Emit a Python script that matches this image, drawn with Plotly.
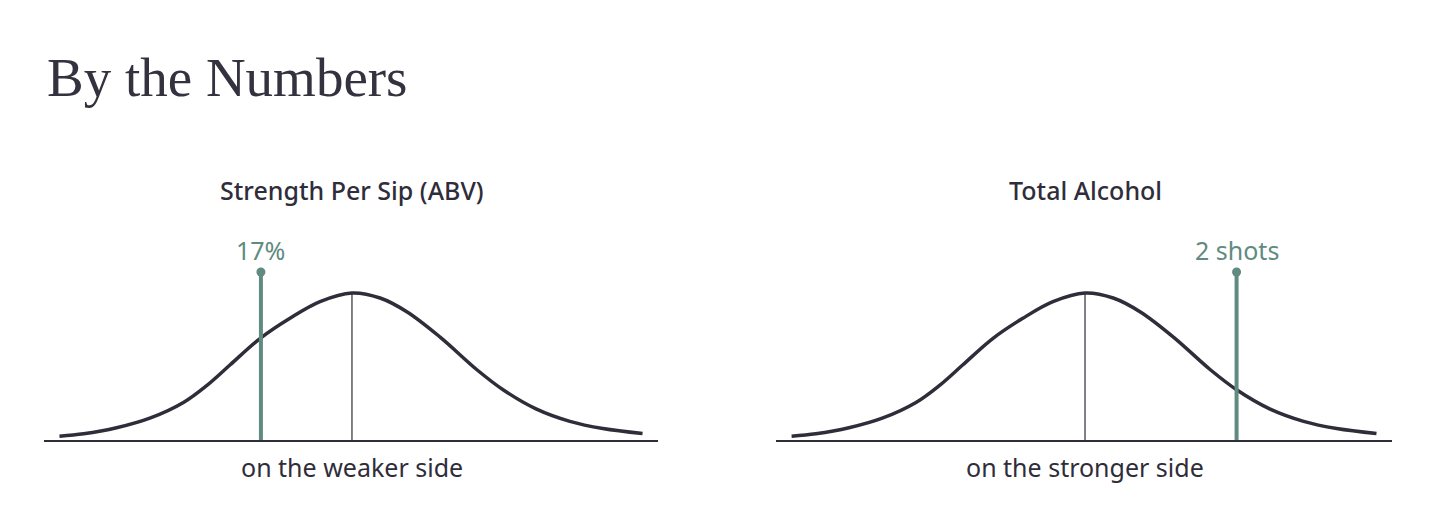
"""'By the Numbers' panel: two bell curves with a highlighted position marker."""

import plotly.graph_objects as go

# bell curve, shared by both panels (x in standard deviations, y relative height)
curve_z = [-3.02, -2.77, -2.43, -2.08, -1.74, -1.50, -1.26, -0.95, -0.64, -0.33, 0.0,
           0.29, 0.57, 0.91, 1.29, 1.56, 1.90, 2.25, 2.59, 3.0]
curve_height = [0.026, 0.042, 0.083, 0.15, 0.255, 0.37, 0.51, 0.69, 0.828, 0.941, 1.0,
                0.966, 0.871, 0.70, 0.478, 0.342, 0.212, 0.127, 0.078, 0.044]

panel_titles = ["Strength Per Sip (ABV)", "Total Alcohol"]
marker_z = [-0.94, 1.56]
marker_top = [1.143, 1.143]
marker_labels = ["17%", "2 shots"]
side_labels = ["on the weaker side", "on the stronger side"]

INK = "#2f2d3a"
TEAL = "#5f8b80"
SANS = "Noto Sans"

fig = go.Figure()
# the page body adds an 8px margin, so positions are shifted up/left by 8px
domains = [[0.0248, 0.4483], [0.5297, 0.9545]]

for i in range(2):
    xa = "x" if i == 0 else "x2"
    ya = "y" if i == 0 else "y2"
    # center (mean) line
    fig.add_trace(go.Scatter(x=[0, 0], y=[0, 1], mode="lines",
                             line=dict(color=INK, width=1.2), xaxis=xa, yaxis=ya,
                             hoverinfo="skip"))
    fig.add_trace(go.Scatter(x=curve_z, y=curve_height, mode="lines",
                             line=dict(color=INK, width=3.5, shape="spline", smoothing=1.0),
                             xaxis=xa, yaxis=ya, hoverinfo="skip"))
    # highlighted value
    fig.add_trace(go.Scatter(x=[marker_z[i], marker_z[i]], y=[0, marker_top[i]],
                             mode="lines", line=dict(color=TEAL, width=4),
                             xaxis=xa, yaxis=ya, hoverinfo="skip"))
    fig.add_trace(go.Scatter(x=[marker_z[i]], y=[marker_top[i]], mode="markers",
                             marker=dict(color=TEAL, size=9), xaxis=xa, yaxis=ya,
                             hoverinfo="skip"))
    fig.add_annotation(x=marker_z[i], y=1.29, xref=xa, yref=ya, text=marker_labels[i],
                       showarrow=False, yanchor="middle",
                       font=dict(family=SANS, size=25, color=TEAL))
    fig.add_annotation(x=0, y=0.65, xref=xa, yref="paper", text=panel_titles[i],
                       showarrow=False, yanchor="middle",
                       font=dict(family=SANS, size=25, color=INK, weight=500))
    fig.add_annotation(x=0, y=0.1173, xref=xa, yref="paper", text=side_labels[i],
                       showarrow=False, yanchor="middle",
                       font=dict(family=SANS, size=25, color=INK))

axis_x = dict(range=[-3.18, 3.16], showgrid=False, zeroline=False, showticklabels=False,
              ticks="", showline=True, linecolor=INK, linewidth=1.5)
axis_y = dict(range=[0, 1.5], showgrid=False, zeroline=False, showticklabels=False,
              ticks="", showline=False, domain=[0.1692, 0.5933])

fig.add_annotation(x=37 / 1450, y=0.867, xref="paper", yref="paper",
                   xanchor="left", yanchor="middle",
                   text="By the Numbers", showarrow=False,
                   font=dict(family="Liberation Serif", size=55, color="#33323e"))

fig.update_layout(
    width=1450, height=520,
    margin=dict(l=0, r=0, t=0, b=0),
    paper_bgcolor="white", plot_bgcolor="white",
    showlegend=False,
    xaxis=dict(axis_x, domain=domains[0], anchor="y"),
    xaxis2=dict(axis_x, domain=domains[1], anchor="y2"),
    yaxis=dict(axis_y, anchor="x"),
    yaxis2=dict(axis_y, anchor="x2"),
)

fig.write_html("out.html")
